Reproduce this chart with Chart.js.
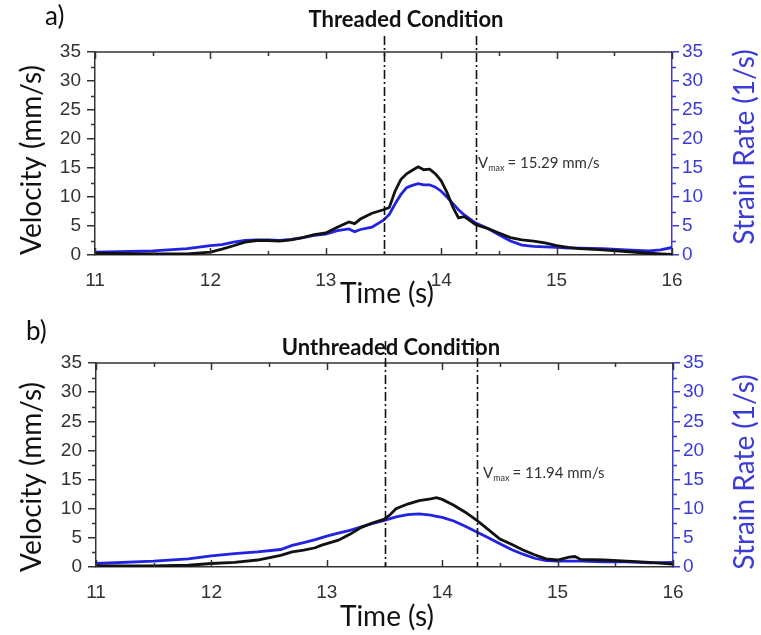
<!doctype html>
<html lang="en">
<head>
<meta charset="utf-8">
<title>Velocity and strain rate</title>
<script src="https://cdn.jsdelivr.net/npm/chart.js@4.4.1/dist/chart.umd.min.js"></script>
<style>
    body { margin: 0; background: #fff; }
    canvas { position: absolute; left: 0; }
    #chartA { top: 0; }
    #chartB { top: 317px; }
</style>
</head>
<body>
<canvas id="chartA" width="761" height="317"></canvas>
<canvas id="chartB" width="761" height="318"></canvas>

<script>
    // a) threaded condition
    var timeA = [11, 11.5, 11.8, 12, 12.1, 12.2, 12.3, 12.4, 12.5, 12.6, 12.7, 12.8, 12.9, 13, 13.1, 13.2, 13.25, 13.3, 13.4, 13.5,
        13.55, 13.6, 13.65, 13.7, 13.75, 13.8, 13.85, 13.9, 13.95, 14, 14.05, 14.1, 14.15, 14.2, 14.3, 14.4, 14.5, 14.6, 14.7,
        14.8, 14.9, 15, 15.1, 15.2, 15.4, 15.6, 15.8, 15.9, 16];
    var velocityA = [0.3, 0.2, 0.2, 0.5, 1.0, 1.6, 2.2, 2.5, 2.5, 2.4, 2.6, 3.0, 3.5, 3.8, 4.8, 5.7, 5.4, 6.2, 7.2, 7.8,
        8.2, 11.0, 13.0, 14.0, 14.6, 15.2, 14.7, 14.8, 14.0, 12.8, 10.8, 8.3, 6.4, 6.6, 5.2, 4.6, 3.8, 3.0, 2.6,
        2.4, 2.1, 1.6, 1.3, 1.1, 0.9, 0.6, 0.3, 0.2, 0.1];
    var strainA = [0.5, 0.7, 1.1, 1.6, 1.8, 2.2, 2.5, 2.6, 2.6, 2.5, 2.7, 3.0, 3.4, 3.6, 4.2, 4.5, 4.0, 4.4, 4.8, 6.0,
        7.0, 8.8, 10.4, 11.6, 12.0, 12.3, 12.1, 12.1, 11.7, 11.0, 10.0, 8.9, 7.8, 6.9, 5.5, 4.6, 3.5, 2.4, 1.7,
        1.5, 1.4, 1.3, 1.2, 1.2, 1.1, 0.9, 0.7, 0.9, 1.3];

    // b) unthreaded condition
    var timeB = [11, 11.5, 11.8, 12, 12.2, 12.4, 12.6, 12.7, 12.8, 12.9, 12.95, 13, 13.1, 13.2, 13.3, 13.4, 13.5, 13.55, 13.6,
        13.7, 13.8, 13.9, 13.95, 14, 14.1, 14.2, 14.3, 14.4, 14.5, 14.6, 14.7, 14.8, 14.9, 15, 15.1, 15.15, 15.2, 15.4,
        15.6, 15.8, 16];
    var velocityB = [0.2, 0.2, 0.3, 0.6, 0.8, 1.2, 2.0, 2.6, 2.9, 3.3, 3.7, 4.0, 4.6, 5.6, 6.8, 7.6, 8.2, 9.0, 10.0,
        10.8, 11.4, 11.7, 11.9, 11.6, 10.6, 9.4, 8.0, 6.4, 4.8, 3.9, 2.9, 2.1, 1.4, 1.2, 1.7, 1.8, 1.3, 1.2,
        1.0, 0.8, 0.5];
    var strainB = [0.6, 1.0, 1.4, 1.9, 2.3, 2.6, 3.0, 3.7, 4.2, 4.7, 5.0, 5.3, 5.8, 6.3, 6.9, 7.5, 8.0, 8.3, 8.6,
        9.0, 9.1, 8.9, 8.7, 8.5, 7.9, 7.0, 6.0, 5.0, 4.0, 3.0, 2.2, 1.5, 1.1, 1.0, 1.0, 1.0, 1.0, 0.9,
        0.9, 0.7, 0.8];

    var xTicks = [11, 12, 13, 14, 15, 16];
    var yTicks = [0, 5, 10, 15, 20, 25, 30, 35];
    var markerTimes = [13.5, 14.3];

    var BLUE = '#2222e2';
    var AXIS_BLUE = '#3b3bd6';

    function points(t, v) {
        return t.map(function(x, i) { return {x: x, y: v[i]}; });
    }

    // frame, inward ticks, minor ticks, markers and all free text
    var decor = {
        id: 'decor',
        afterDraw: function(chart, args, o) {
            var ctx = chart.ctx, a = chart.chartArea;
            var x = chart.scales.x, y = chart.scales.y;
            ctx.save();

            // top border
            ctx.strokeStyle = '#333';
            ctx.lineWidth = 1.5;
            ctx.beginPath();
            ctx.moveTo(a.left, a.top);
            ctx.lineTo(a.right, a.top);
            ctx.stroke();

            // x ticks point inwards, top and bottom
            for (var t = 11; t <= 16.001; t += 0.5) {
                var px = Math.round(x.getPixelForValue(t)) + 0.5;
                var len = (Math.abs(t - Math.round(t)) < 0.01) ? 7 : 4;
                ctx.beginPath();
                ctx.moveTo(px, a.bottom);
                ctx.lineTo(px, a.bottom - len);
                ctx.moveTo(px, a.top);
                ctx.lineTo(px, a.top + len);
                ctx.stroke();
            }

            // minor y ticks
            for (var v = 2.5; v < 35; v += 5) {
                var py = Math.round(y.getPixelForValue(v)) + 0.5;
                ctx.strokeStyle = '#333';
                ctx.beginPath();
                ctx.moveTo(a.left, py);
                ctx.lineTo(a.left - 4, py);
                ctx.stroke();
                ctx.strokeStyle = AXIS_BLUE;
                ctx.beginPath();
                ctx.moveTo(a.right, py);
                ctx.lineTo(a.right + 4, py);
                ctx.stroke();
            }

            // dash-dot markers
            ctx.strokeStyle = '#111';
            ctx.lineWidth = 1.6;
            ctx.setLineDash([9, 3, 2, 3]);
            markerTimes.forEach(function(m) {
                var px = Math.round(x.getPixelForValue(m)) + 0.5;
                ctx.beginPath();
                ctx.moveTo(px, o.markerTop);
                ctx.lineTo(px, a.bottom);
                ctx.stroke();
            });
            ctx.setLineDash([]);

            // panel tag and title
            ctx.fillStyle = '#111';
            ctx.textBaseline = 'middle';
            ctx.textAlign = 'left';
            ctx.font = '26px Lato';
            ctx.fillText(o.tag, o.tagX, o.tagY);
            ctx.textAlign = 'center';
            ctx.font = 'bold 22px Lato';
            ctx.fillText(o.title, o.titleX, o.titleY);

            // axis titles
            ctx.font = '28px Lato';
            ctx.fillText('Time (s)', 387, o.timeY);
            ctx.save();
            ctx.translate(32, o.velY);
            ctx.rotate(-Math.PI / 2);
            ctx.fillText('Velocity (mm/s)', 0, 0);
            ctx.restore();
            ctx.save();
            ctx.fillStyle = AXIS_BLUE;
            ctx.translate(745, o.rateY);
            ctx.rotate(-Math.PI / 2);
            ctx.fillText('Strain Rate (1/s)', 0, 0);
            ctx.restore();

            // V max note
            ctx.textAlign = 'left';
            ctx.textBaseline = 'alphabetic';
            ctx.fillStyle = '#333';
            ctx.font = '15px Lato';
            var nx = o.noteX, ny = o.noteY;
            ctx.fillText('V', nx, ny);
            nx += ctx.measureText('V').width;
            ctx.font = '9px Lato';
            ctx.fillText('max', nx, ny + 3);
            nx += ctx.measureText('max').width + 3;
            ctx.font = '15px Lato';
            ctx.fillText('= ' + o.vmax + ' mm/s', nx, ny);

            ctx.restore();
        }
    };

    function makeChart(id, t, vel, rate, geo, note) {
        var tickFont = {family: 'Liberation Sans', size: 19};
        return new Chart(document.getElementById(id), {
            type: 'line',
            data: {
                datasets: [{
                    label: 'Velocity',
                    data: points(t, vel),
                    borderColor: '#111',
                    borderWidth: 2.8,
                    pointRadius: 0,
                    tension: 0,
                    yAxisID: 'y'
                }, {
                    label: 'Strain Rate',
                    data: points(t, rate),
                    borderColor: BLUE,
                    borderWidth: 2.8,
                    pointRadius: 0,
                    tension: 0,
                    yAxisID: 'y1'
                }]
            },
            options: {
                responsive: false,
                animation: false,
                events: [],
                layout: {padding: {top: geo.top, left: 0, right: 0, bottom: 0}},
                plugins: {
                    legend: {display: false},
                    tooltip: {enabled: false},
                    decor: note
                },
                scales: {
                    x: {
                        type: 'linear',
                        min: 11,
                        max: 16,
                        afterBuildTicks: function(s) { s.ticks = xTicks.map(function(v) { return {value: v}; }); },
                        afterFit: function(s) { s.height = geo.xHeight; },
                        grid: {display: false},
                        border: {display: true, color: '#333', width: 1.5},
                        ticks: {font: tickFont, color: '#333', padding: 6, maxRotation: 0}
                    },
                    y: {
                        position: 'left',
                        min: 0,
                        max: 35,
                        afterBuildTicks: function(s) { s.ticks = yTicks.map(function(v) { return {value: v}; }); },
                        afterFit: function(s) { s.width = geo.left; },
                        grid: {drawOnChartArea: false, tickLength: 8, color: '#333', lineWidth: 1.5},
                        border: {display: true, color: '#333', width: 1.5},
                        ticks: {font: tickFont, color: '#333', padding: 6}
                    },
                    y1: {
                        position: 'right',
                        min: 0,
                        max: 35,
                        afterBuildTicks: function(s) { s.ticks = yTicks.map(function(v) { return {value: v}; }); },
                        afterFit: function(s) { s.width = geo.right; },
                        grid: {drawOnChartArea: false, tickLength: 7, color: AXIS_BLUE, lineWidth: 1.5},
                        border: {display: true, color: AXIS_BLUE, width: 1.5},
                        ticks: {font: tickFont, color: AXIS_BLUE, padding: 3}
                    }
                }
            },
            plugins: [decor]
        });
    }

    makeChart('chartA', timeA, velocityA, strainA,
        {top: 52, xHeight: 62, left: 95, right: 89},
        {tag: 'a)', tagX: 45, tagY: 17, title: 'Threaded Condition', titleX: 406, titleY: 20,
         timeY: 294, velY: 160, rateY: 147, markerTop: 36, noteX: 478, noteY: 168, vmax: '15.29'});

    makeChart('chartB', timeB, velocityB, strainB,
        {top: 46, xHeight: 68, left: 96, right: 88},
        {tag: 'b)', tagX: 26, tagY: 15, title: 'Unthreaded Condition', titleX: 391, titleY: 31,
         timeY: 300, velY: 160, rateY: 155, markerTop: 24, noteX: 483, noteY: 161, vmax: '11.94'});
</script>
</body>
</html>
